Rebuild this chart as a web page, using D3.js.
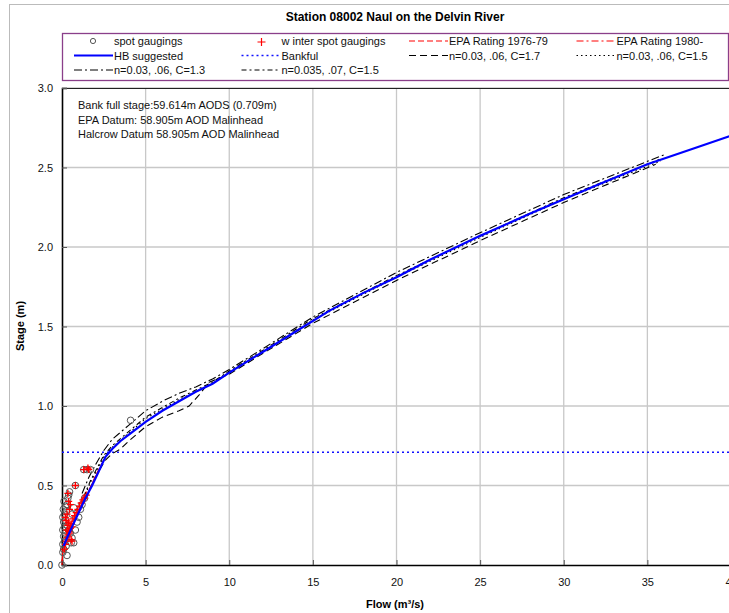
<!DOCTYPE html>
<html><head><meta charset="utf-8">
<script src="https://cdn.jsdelivr.net/npm/d3@7"></script>
<style>body{margin:0;background:#fff}svg{font-family:"Liberation Sans",Arial,sans-serif}</style>
</head><body>
<script>
const title = "Station 08002 Naul on the Delvin River";
const xTicks = [0,5,10,15,20,25,30,35,40];
const yTicks = [0.0,0.5,1.0,1.5,2.0,2.5,3.0];
const bankful = 0.709;
const notes = ["Bank full stage:59.614m AODS (0.709m)","EPA Datum: 58.905m AOD Malinhead","Halcrow  Datum 58.905m AOD Malinhead"];

const spotQ = [0,0.05,0.1,0.05,0.15,0.1,0.2,0.05,0.15,0.1,0.2,0.05,0.15,0.25,0.2,0.3,0.35,0.4,0.45,0.3,0.4,0.5,0.6,0.7,0.55,0.3,0.25,0.8,0.9,1.0,1.1,1.2,1.35,1.3,1.5,1.7,0.8,4.1,0.6,0.7,0.08,0.12];
const spotH = [0.0,0.08,0.1,0.13,0.15,0.18,0.2,0.22,0.24,0.27,0.28,0.3,0.32,0.34,0.37,0.38,0.42,0.44,0.46,0.25,0.22,0.2,0.17,0.14,0.14,0.06,0.12,0.22,0.27,0.3,0.35,0.38,0.42,0.6,0.6,0.6,0.5,0.91,0.32,0.36,0.35,0.4];

const winterQ = [0.15,0.2,0.25,0.3,0.35,0.4,0.45,0.5,0.3,0.35,0.4,0.25,0.2,0.3,0.45,0.5,0.55,0.6,0.55,0.65,0.75,0.85,0.95,1.05,1.15,1.25,1.35,1.45,0.8,1.3,1.55,1.6,0.4,0.35,0.6];
const winterH = [0.1,0.13,0.15,0.17,0.19,0.21,0.2,0.23,0.22,0.25,0.27,0.28,0.3,0.32,0.35,0.38,0.16,0.15,0.26,0.29,0.31,0.33,0.35,0.37,0.39,0.41,0.42,0.44,0.5,0.6,0.61,0.6,0.4,0.45,0.24];

const epa7679Q = [0,0.05,0.2,0.5,1.0,1.5,2.0,2.6];
const epa7679H = [0.0,0.1,0.17,0.25,0.34,0.44,0.56,0.68];
const epa80Q = [0,0.1,0.3,0.6,1.0,1.4,1.8,2.4];
const epa80H = [0.02,0.12,0.18,0.25,0.33,0.42,0.51,0.64];

const hbQ = [0.1,0.3,0.6,1.0,1.4,1.8,2.2,2.6,3.0,3.5,4,5,6,7,8,9,10,12,14,16,18,20,22,25,28,30,32,35,37.5,40];
const hbH = [0.12,0.17,0.24,0.33,0.42,0.5,0.59,0.68,0.73,0.78,0.82,0.9,0.97,1.03,1.09,1.14,1.21,1.34,1.47,1.60,1.71,1.81,1.92,2.07,2.21,2.30,2.39,2.52,2.61,2.70];

const c17Q = [1.4,1.8,2.2,2.6,3,3.5,4,5,6,7,7.6,8.2,8.8,10,12,15,20,25,30,35.5];
const c17H = [0.41,0.51,0.59,0.66,0.70,0.73,0.78,0.87,0.93,0.97,1.0,1.07,1.15,1.2,1.33,1.52,1.79,2.04,2.28,2.52];
const c15Q = [1.3,1.7,2.1,2.5,3,4,5,6,7,8,9,10,12,15,20,25,30,35.8];
const c15H = [0.42,0.52,0.60,0.68,0.74,0.83,0.92,0.98,1.04,1.09,1.14,1.21,1.34,1.54,1.81,2.06,2.30,2.54];
const c13Q = [1.2,1.6,2.0,2.5,3,4,5,6,7,8,9,10,12,15,20,25,30,36];
const c13H = [0.45,0.55,0.63,0.72,0.79,0.88,0.97,1.03,1.08,1.12,1.17,1.23,1.36,1.56,1.84,2.09,2.33,2.58];
const n035Q = [1.3,1.7,2.1,2.5,3,4,5,6,7,8,9,10,12,15,20,25,30,35.7];
const n035H = [0.43,0.53,0.61,0.69,0.75,0.84,0.93,0.99,1.05,1.10,1.15,1.22,1.35,1.55,1.82,2.07,2.31,2.55];

const W=729,H=613;
const svg=d3.select("body").append("svg").attr("width",W).attr("height",H);
svg.append("rect").attr("x",9.5).attr("y",4.5).attr("width",W).attr("height",H).attr("fill","#fff").attr("stroke","#bbb");

const x=d3.scaleLinear().domain([0,40]).range([62,731]);
const y=d3.scaleLinear().domain([0,3]).range([565,88]);

svg.append("text").attr("x",395).attr("y",21).attr("text-anchor","middle").attr("font-weight","bold").attr("font-size",12).text(title);

// grid
const g=svg.append("g");
g.selectAll(".vg").data(xTicks.slice(1)).join("line").attr("x1",d=>x(d)).attr("x2",d=>x(d)).attr("y1",y(0)).attr("y2",y(3)).attr("stroke","#c8c8c8").attr("stroke-width",1.3);
g.selectAll(".hg").data(yTicks.slice(1)).join("line").attr("x1",x(0)).attr("x2",W).attr("y1",d=>y(d)).attr("y2",d=>y(d)).attr("stroke","#c8c8c8").attr("stroke-width",1.3);
svg.append("line").attr("x1",x(0)).attr("x2",W).attr("y1",y(3)+0.5).attr("y2",y(3)+0.5).attr("stroke","#222").attr("stroke-width",1.2);

// axes
const xa=svg.append("g").attr("transform",`translate(0,${y(0)})`).call(d3.axisBottom(x).tickValues(xTicks).tickSize(-5).tickPadding(13).tickFormat(d3.format("d")));
const ya=svg.append("g").attr("transform",`translate(${x(0)},0)`).call(d3.axisLeft(y).tickValues(yTicks).tickSize(-5).tickPadding(9).tickFormat(d3.format(".1f")));
[xa,ya].forEach(a=>{a.select(".domain").attr("stroke","#000").attr("stroke-width",1.6);a.selectAll("text").attr("font-size",11).attr("font-family","Liberation Sans, Arial, sans-serif").attr("fill","#111");a.selectAll(".tick line").attr("stroke","#555");});
svg.append("text").attr("x",395).attr("y",608).attr("text-anchor","middle").attr("font-weight","bold").attr("font-size",11).text("Flow (m³/s)");
svg.append("text").attr("transform","translate(24,326) rotate(-90)").attr("text-anchor","middle").attr("font-weight","bold").attr("font-size",11).text("Stage (m)");

// notes
svg.selectAll(".note").data(notes).join("text").attr("x",78).attr("y",(d,i)=>109+i*14.7).attr("font-size",11).attr("fill","#111").text(d=>d);

const plot=svg.append("g");
const line=(Q,Hh)=>d3.line().x(i=>x(Q[i])).y(i=>y(Hh[i]))(d3.range(Q.length));

const styles = {
  epa7679:{c:"#ff0000",d:"6,3",w:1.2},
  epa80:{c:"#ff0000",d:"7,3,2,3",w:1.2},
  hb:{c:"#0000ff",d:null,w:2.2},
  bank:{c:"#1010ff",d:"2,3",w:1.3},
  c17:{c:"#000",d:"7,4",w:1.1},
  c15:{c:"#000",d:"1.5,3",w:1.1},
  c13:{c:"#000",d:"8,3,2,3",w:1.1},
  n035:{c:"#000",d:"5,3,2,3",w:1.1}
};

// bankful
plot.append("line").attr("x1",x(0)).attr("x2",W).attr("y1",y(bankful)).attr("y2",y(bankful)).attr("stroke",styles.bank.c).attr("stroke-width",styles.bank.w).attr("stroke-dasharray",styles.bank.d);

const series=[["c17",c17Q,c17H],["c15",c15Q,c15H],["c13",c13Q,c13H],["n035",n035Q,n035H],["epa7679",epa7679Q,epa7679H],["epa80",epa80Q,epa80H]];
series.forEach(([k,Q,Hh])=>{const s=styles[k];plot.append("path").attr("d",line(Q,Hh)).attr("fill","none").attr("stroke",s.c).attr("stroke-width",s.w).attr("stroke-dasharray",s.d);});

// points
plot.selectAll(".spot").data(d3.range(spotQ.length)).join("circle").attr("cx",i=>x(spotQ[i])).attr("cy",i=>y(spotH[i])).attr("r",3.3).attr("fill","none").attr("stroke","#555").attr("stroke-width",1);
plot.selectAll(".win").data(d3.range(winterQ.length)).join("path").attr("d",i=>{const cx=x(winterQ[i]),cy=y(winterH[i]);return `M${cx-3.5},${cy}H${cx+3.5}M${cx},${cy-3.5}V${cy+3.5}`;}).attr("stroke","#ff0000").attr("stroke-width",1.3);

plot.append("path").attr("d",line(hbQ,hbH)).attr("fill","none").attr("stroke",styles.hb.c).attr("stroke-width",styles.hb.w);

// legend
svg.append("rect").attr("x",62.5).attr("y",33.5).attr("width",666).attr("height",47).attr("fill","#fff").attr("stroke","#8a3f8a").attr("stroke-width",1.3);
const legend=[
 {t:"spot gaugings",k:"spot",c:0,r:0},{t:"w inter spot gaugings",k:"win",c:1,r:0},{t:"EPA Rating 1976-79",k:"epa7679",c:2,r:0},{t:"EPA Rating 1980-",k:"epa80",c:3,r:0},
 {t:"HB suggested",k:"hb",c:0,r:1},{t:"Bankful",k:"bank",c:1,r:1},{t:"n=0.03, .06, C=1.7",k:"c17",c:2,r:1},{t:"n=0.03, .06, C=1.5",k:"c15",c:3,r:1},
 {t:"n=0.03, .06, C=1.3",k:"c13",c:0,r:2},{t:"n=0.035, .07, C=1.5",k:"n035",c:1,r:2}
];
const colX=[74,241.5,409,576.5], rowY=[41,55.5,70];
legend.forEach(L=>{
  const x0=colX[L.c], yy=rowY[L.r];
  if(L.k==="spot"){svg.append("circle").attr("cx",x0+19).attr("cy",yy).attr("r",2.6).attr("fill","none").attr("stroke","#555");}
  else if(L.k==="win"){svg.append("path").attr("d",`M${x0+16},${yy+1}H${x0+24}M${x0+20},${yy-3}V${yy+5}`).attr("stroke","#ff0000").attr("stroke-width",1.2);}
  else {const s=styles[L.k];svg.append("line").attr("x1",x0).attr("x2",x0+39).attr("y1",yy).attr("y2",yy).attr("stroke",s.c).attr("stroke-width",s.w).attr("stroke-dasharray",s.d);}
  svg.append("text").attr("x",x0+40).attr("y",yy+4).attr("font-size",11).attr("fill","#111").text(L.t);
});
</script>
</body></html>
